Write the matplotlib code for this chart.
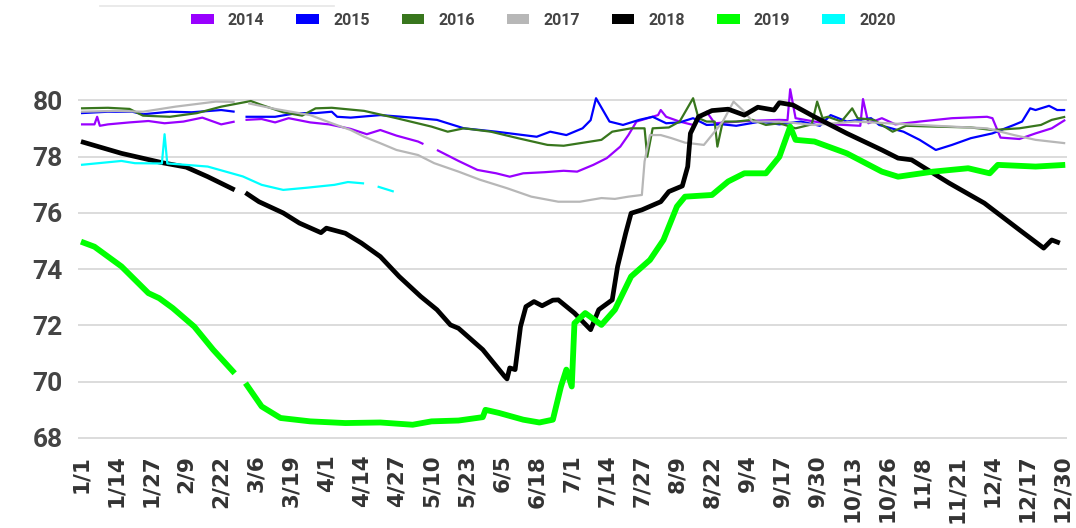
import numpy as np
import matplotlib
matplotlib.use("Agg")
import matplotlib.pyplot as plt
from matplotlib.patches import Patch
from matplotlib.lines import Line2D

nan = np.nan

# day index on a leap-year calendar (0 = 1/1, 59 = 2/29, 365 = 12/31)
days_2014 = [0, 5, 6, 7, 10, 18, 25, 31, 38, 45, 52, 57, 59, 61, 67, 72, 77, 85, 92, 100,
             106, 111, 117, 125, 127, 129, 132, 140, 147, 154, 159, 164, 172, 179, 184, 190,
             195, 200, 203, 206, 214, 215, 217, 222, 227, 232, 235, 247, 259, 262, 263, 265,
             272, 279, 289, 290, 292, 297, 302, 311, 323, 336, 338, 341, 348, 354, 360, 365]
vals_2014 = [79.15, 79.15, 79.42, 79.1, 79.15, 79.22, 79.27, 79.19, 79.25, 79.39, 79.15, 79.25, nan,
             79.31, 79.34, 79.22, 79.37, 79.22, 79.15, 78.99, 78.8, 78.95, 78.75, 78.54, 78.45, nan,
             78.24, 77.85, 77.53, 77.41, 77.29, 77.41, 77.45, 77.5, 77.47, 77.71, 77.95, 78.36,
             78.77, 79.25, 79.48, 79.66, 79.42, 79.25, 79.13, 79.6, 79.19, 79.27, 79.31, 79.3,
             80.4, 79.37, 79.25, 79.15, 79.1, 80.05, 79.19, 79.37, 79.15, 79.25, 79.37, 79.42,
             79.37, 78.68, 78.63, 78.83, 79.01, 79.31]

days_2015 = [0, 10, 19, 23, 33, 41, 52, 57, 59, 61, 72, 80, 87, 93, 95, 100, 111, 123, 132, 142,
             154, 169, 174, 180, 186, 189, 191, 196, 201, 207, 212, 217, 222, 227, 232, 238, 243,
             252, 259, 267, 274, 278, 284, 293, 296, 305, 311, 317, 323, 330, 338, 346, 349, 352,
             354, 359, 362, 365]
vals_2015 = [79.55, 79.6, 79.6, 79.51, 79.6, 79.58, 79.66, 79.6, nan, 79.42, 79.42, 79.55, 79.55,
             79.6, 79.42, 79.39, 79.48, 79.39, 79.31, 79.01, 78.89, 78.71, 78.89, 78.77, 79.01,
             79.3, 80.08, 79.25, 79.13, 79.31, 79.42, 79.19, 79.22, 79.37, 79.13, 79.15, 79.1,
             79.25, 79.15, 79.25, 79.1, 79.48, 79.25, 79.37, 79.13, 78.89, 78.6, 78.24, 78.42,
             78.66, 78.83, 79.13, 79.25, 79.72, 79.66, 79.81, 79.66, 79.66]

days_2016 = [0, 10, 18, 23, 33, 43, 52, 63, 67, 75, 82, 87, 93, 105, 117, 130, 136, 142, 152, 162,
             173, 179, 185, 193, 197, 204, 209, 210, 212, 218, 222, 227, 229, 232, 235, 236, 238,
             243, 249, 254, 259, 265, 271, 273, 275, 277, 282, 286, 288, 294, 301, 306, 317, 330,
             338, 348, 356, 360, 365]
vals_2016 = [79.72, 79.74, 79.7, 79.46, 79.42, 79.55, 79.78, 79.98, 79.84, 79.58, 79.46, 79.72,
             79.74, 79.63, 79.37, 79.07, 78.89, 79.01, 78.89, 78.66, 78.42, 78.39, 78.48, 78.6,
             78.89, 79.01, 79.01, 78.0, 79.01, 79.04, 79.25, 80.08, 79.37, 79.25, 79.25, 78.36,
             79.25, 79.25, 79.31, 79.13, 79.19, 79.01, 79.15, 79.96, 79.37, 79.42, 79.25, 79.72,
             79.37, 79.31, 78.89, 79.1, 79.07, 79.04, 78.95, 79.01, 79.13, 79.31, 79.42]

days_2017 = [0, 13, 23, 35, 50, 57, 59, 62, 72, 85, 93, 100, 105, 111, 117, 125, 131, 140, 148,
             158, 167, 177, 185, 193, 198, 203, 208, 209, 211, 215, 219, 224, 231, 235, 238, 242,
             246, 249, 259, 272, 287, 299, 311, 323, 336, 346, 354, 365]
vals_2017 = [79.6, 79.63, 79.6, 79.78, 79.96, 79.95, nan, 79.9, 79.7, 79.48, 79.19, 78.95, 78.71,
             78.48, 78.24, 78.06, 77.77, 77.47, 77.18, 76.88, 76.58, 76.4, 76.4, 76.53, 76.5,
             76.58, 76.64, 77.83, 78.77, 78.77, 78.66, 78.5, 78.42, 78.89, 79.25, 79.96, 79.6,
             79.25, 79.25, 79.13, 79.25, 79.19, 79.13, 79.07, 79.01, 78.77, 78.6, 78.48]

days_2018 = [0, 15, 30, 39, 47, 57, 59, 61, 66, 75, 81, 89, 91, 98, 104, 111, 118, 126, 132, 137,
             140, 149, 157, 158, 159, 161, 163, 165, 168, 171, 175, 177, 183, 189, 192, 197, 199,
             202, 204, 208, 215, 218, 223, 225, 226, 229, 234, 240, 246, 251, 257, 259, 264, 272,
             284, 297, 303, 308, 322, 335, 348, 357, 360, 363]
vals_2018 = [78.54, 78.12, 77.79, 77.63, 77.29, 76.82, nan, 76.72, 76.4, 76.0, 75.64, 75.3, 75.46,
             75.28, 74.93, 74.45, 73.74, 73.03, 72.56, 72.02, 71.9, 71.14, 70.2, 70.1, 70.49,
             70.43, 71.96, 72.67, 72.85, 72.7, 72.9, 72.91, 72.44, 71.85, 72.56, 72.91, 74.1,
             75.28, 75.99, 76.11, 76.4, 76.76, 76.96, 77.65, 78.83, 79.42, 79.64, 79.69, 79.48,
             79.76, 79.66, 79.92, 79.84, 79.42, 78.83, 78.24, 77.95, 77.89, 77.06, 76.35, 75.4,
             74.75, 75.04, 74.93]

days_2019 = [0, 5, 15, 25, 29, 34, 42, 49, 57, 59, 61, 67, 74, 85, 98, 111, 123, 130, 140, 149,
             150, 155, 164, 170, 175, 178, 180, 182, 183, 187, 193, 198, 204, 211, 216, 221, 224,
             234, 240, 246, 254, 259, 263, 265, 272, 284, 297, 303, 316, 329, 337, 340, 354, 365]
vals_2019 = [74.98, 74.8, 74.1, 73.15, 72.97, 72.62, 71.96, 71.14, 70.3, nan, 69.95, 69.12, 68.71,
             68.59, 68.53, 68.55, 68.47, 68.59, 68.62, 68.74, 69.0, 68.89, 68.65, 68.55, 68.65,
             69.83, 70.43, 69.83, 72.08, 72.44, 72.02, 72.56, 73.74, 74.33, 75.04, 76.23, 76.58,
             76.64, 77.12, 77.41, 77.41, 78.0, 79.07, 78.6, 78.54, 78.12, 77.47, 77.29, 77.47,
             77.59, 77.41, 77.71, 77.65, 77.71]

days_2020 = [0, 15, 20, 30, 31, 32, 35, 47, 60, 67, 75, 84, 94, 99, 105, 107, 110, 116]
vals_2020 = [77.71, 77.85, 77.77, 77.76, 78.8, 77.76, 77.74, 77.65, 77.3, 77.0, 76.82, 76.9, 77.0,
             77.1, 77.05, nan, 76.94, 76.76]

years = ["2014", "2015", "2016", "2017", "2018", "2019", "2020"]
colors = ["#9900ff", "#0000ff", "#38761d", "#b7b7b7", "#000000", "#00ff00", "#00ffff"]
widths = [1.6, 1.6, 1.6, 1.6, 3.4, 4.2, 1.6]
series = [(days_2014, vals_2014), (days_2015, vals_2015), (days_2016, vals_2016),
          (days_2017, vals_2017), (days_2018, vals_2018), (days_2019, vals_2019),
          (days_2020, vals_2020)]

tick_days = list(range(0, 365, 13))
tick_labels = ["1/1", "1/14", "1/27", "2/9", "2/22", "3/6", "3/19", "4/1", "4/14", "4/27",
               "5/10", "5/23", "6/5", "6/18", "7/1", "7/14", "7/27", "8/9", "8/22", "9/4",
               "9/17", "9/30", "10/13", "10/26", "11/8", "11/21", "12/4", "12/17", "12/30"]

plt.rcParams['font.family'] = ['Roboto', 'DejaVu Sans']

fig = plt.figure(figsize=(10.76, 5.28), dpi=100)
ax = fig.add_axes([0.0725, 0.1652, 0.919, 0.6818])

for (d, v), c, w in zip(series, colors, widths):
    ax.plot(d, v, color=c, lw=w, solid_joinstyle='round', solid_capstyle='butt')

ax.set_xlim(-1.1, 365.6)
ax.set_ylim(67.9, 80.7)
ax.set_yticks([68, 70, 72, 74, 76, 78, 80])
ax.set_xticks(tick_days)
ax.set_xticklabels(tick_labels, rotation=90, fontsize=15.5, fontweight='bold',
                   family=['DejaVu Sans'], color="#333333")
ax.tick_params(axis='x', length=0, pad=10)
ax.tick_params(axis='y', length=0, pad=11, labelsize=19, labelcolor="#444444")
for lab in ax.get_yticklabels():
    lab.set_fontweight('bold')
ax.grid(axis='y', color='#d9d9d9', lw=1.3)
ax.set_axisbelow(True)
for s in ax.spines.values():
    s.set_visible(False)

handles = [Patch(facecolor=c, edgecolor='none') for c in colors]
fig.legend(handles, years, loc='center', bbox_to_anchor=(0.505, 0.962), ncol=7, frameon=False,
           prop={'size': 11.5, 'weight': 'bold'}, labelcolor='#444444',
           handlelength=1.4, handleheight=0.55, handletextpad=0.9, columnspacing=2.0)

# faint edge of a box at the top left
fig.add_artist(Line2D([0.093, 0.31], [0.989, 0.989], color='#e6e6e6', lw=1.2))

fig.savefig("out.png", dpi=100, facecolor='white')
